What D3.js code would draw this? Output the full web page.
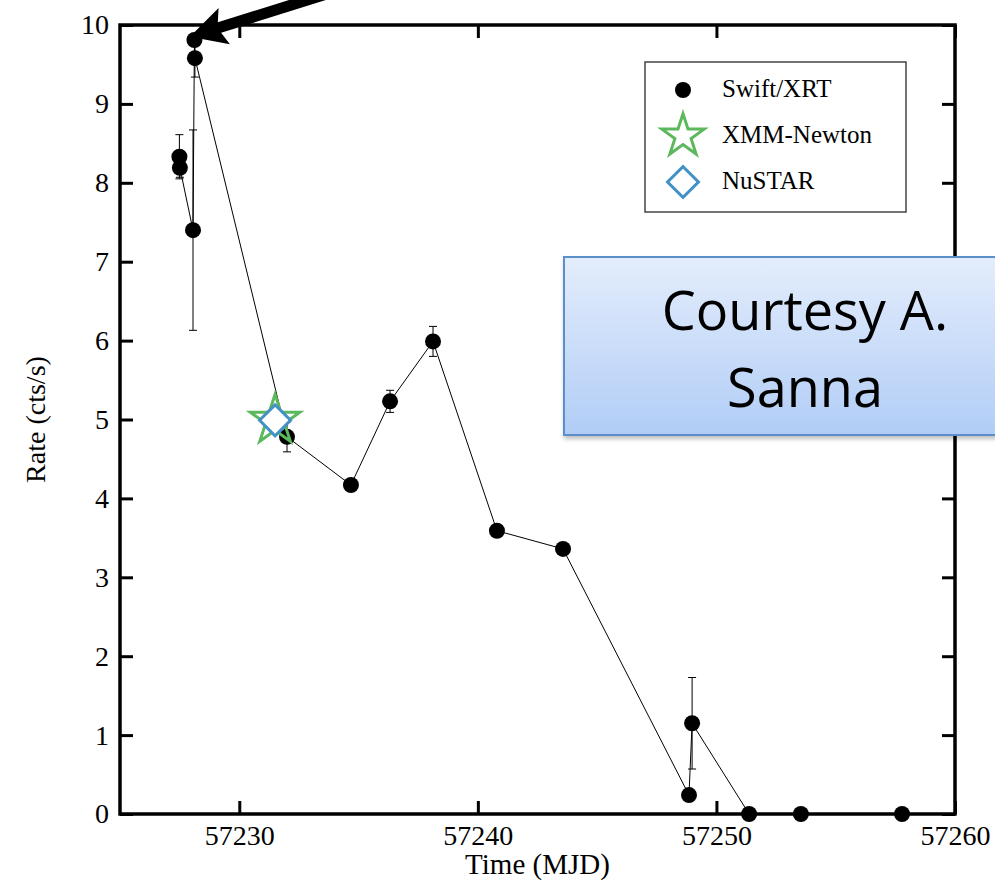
<!DOCTYPE html>
<html>
<head>
<meta charset="utf-8">
<script src="https://cdn.jsdelivr.net/npm/d3@7"></script>
<style>
  body { margin: 0; background: #fff; }
  svg { display: block; }
</style>
</head>
<body>
<div id="chart"></div>
<script>
// Swift/XRT light curve
var swiftTime = [57227.49, 57227.51, 57228.06, 57228.12, 57228.14, 57232.0, 57234.68, 57236.32,
                 57238.12, 57240.80, 57243.57, 57248.85, 57248.98, 57251.37, 57253.54, 57257.78];
var swiftRate = [8.33, 8.19, 7.40, 9.81, 9.58, 4.78, 4.17, 5.23, 5.99, 3.59, 3.36, 0.24, 1.15, 0, 0, 0];
var swiftErr  = [0.28, 0.12, 1.27, 0, 0.24, 0.19, 0, 0.14, 0.19, 0, 0, 0, 0.58, 0, 0, 0];

var xmmTime = [57231.5], xmmRate = [4.99];
var nustarTime = [57231.5], nustarRate = [4.99];

var xTicks = [57230, 57240, 57250, 57260];
var yTicks = [0, 1, 2, 3, 4, 5, 6, 7, 8, 9, 10];

var legendLabels = ["Swift/XRT", "XMM-Newton", "NuSTAR"];
var arrowTip = [57227.93, 9.85];

draw();

function draw() {
    var width = 995, height = 881;
    var pLeft = 120, pRight = 955, pTop = 25, pBottom = 814;

    var svg = d3.select('#chart').append('svg')
        .attr('width', width)
        .attr('height', height)

    var x = d3.scaleLinear().domain([57225, 57260]).range([pLeft, pRight]);
    var y = d3.scaleLinear().domain([0, 10]).range([pBottom, pTop]);

    var serif = '"Liberation Serif", "Times New Roman", serif';

    // axes, ticks pointing inward
    function styleAxis(g) {
        g.select('.domain').remove();
        g.selectAll('.tick line').attr('stroke', '#000').attr('stroke-width', 3);
        g.selectAll('.tick text').attr('font-family', serif).attr('font-size', 28).attr('fill', '#000');
    }

    svg.append('g')
        .attr('transform', 'translate(0,' + pBottom + ')')
        .call(d3.axisBottom(x).tickValues(xTicks).tickFormat(d3.format('d')).tickSize(-13).tickPadding(11))
        .call(styleAxis)

    svg.append('g')
        .attr('transform', 'translate(0,' + pTop + ')')
        .call(d3.axisTop(x).tickValues(xTicks).tickFormat('').tickSize(-13))
        .call(styleAxis)

    svg.append('g')
        .attr('transform', 'translate(' + pLeft + ',0)')
        .call(d3.axisLeft(y).tickValues(yTicks).tickFormat(d3.format('d')).tickSize(-13).tickPadding(11))
        .call(styleAxis)

    svg.append('g')
        .attr('transform', 'translate(' + pRight + ',0)')
        .call(d3.axisRight(y).tickValues(yTicks).tickFormat('').tickSize(-13))
        .call(styleAxis)

    svg.append('rect')
        .attr('x', pLeft)
        .attr('y', pTop)
        .attr('width', pRight - pLeft)
        .attr('height', pBottom - pTop)
        .attr('fill', 'none')
        .attr('stroke', '#000')
        .attr('stroke-width', 3.5)

    // axis labels
    svg.append('text')
        .text('Time (MJD)')
        .attr('x', (pLeft + pRight) / 2)
        .attr('y', 874)
        .attr('text-anchor', 'middle')
        .attr('font-family', serif)
        .attr('font-size', 29)

    svg.append('text')
        .text('Rate (cts/s)')
        .attr('transform', 'translate(45,' + (pTop + pBottom) / 2 + ') rotate(-90)')
        .attr('text-anchor', 'middle')
        .attr('font-family', serif)
        .attr('font-size', 28)

    var swift = swiftTime.map(function(t, i) {
        return { t: t, r: swiftRate[i], e: swiftErr[i] };
    });

    // connecting line
    svg.append('path')
        .datum(swift)
        .attr('fill', 'none')
        .attr('stroke', '#000')
        .attr('stroke-width', 1)
        .attr('d', d3.line().x(function(d) { return x(d.t) }).y(function(d) { return y(d.r) }))

    // error bars
    var errs = svg.append('g').selectAll('g')
        .data(swift.filter(function(d) { return d.e > 0 }))
        .enter().append('g')
        .attr('stroke', '#000')
        .attr('stroke-width', 1)

    errs.append('line')
        .attr('x1', function(d) { return x(d.t) })
        .attr('x2', function(d) { return x(d.t) })
        .attr('y1', function(d) { return y(d.r - d.e) })
        .attr('y2', function(d) { return y(d.r + d.e) })

    errs.selectAll('.cap')
        .data(function(d) { return [[d.t, d.r - d.e], [d.t, d.r + d.e]] })
        .enter().append('line')
        .attr('class', 'cap')
        .attr('x1', function(d) { return x(d[0]) - 4 })
        .attr('x2', function(d) { return x(d[0]) + 4 })
        .attr('y1', function(d) { return y(d[1]) })
        .attr('y2', function(d) { return y(d[1]) })

    svg.append('g').selectAll('circle')
        .data(swift)
        .enter().append('circle')
        .attr('cx', function(d) { return x(d.t) })
        .attr('cy', function(d) { return y(d.r) })
        .attr('r', 8)
        .attr('fill', '#000')

    // XMM-Newton star and NuSTAR diamond
    var starPath = d3.symbol().type(d3.symbolStar).size(760);
    var diamondPath = d3.symbol().type(d3.symbolSquare).size(480);

    svg.append('g').selectAll('path')
        .data(xmmTime.map(function(t, i) { return [t, xmmRate[i]] }))
        .enter().append('path')
        .attr('d', starPath)
        .attr('transform', function(d) { return 'translate(' + x(d[0]) + ',' + y(d[1]) + ')' })
        .attr('fill', 'none')
        .attr('stroke', '#5cb85c')
        .attr('stroke-width', 3)

    svg.append('g').selectAll('path')
        .data(nustarTime.map(function(t, i) { return [t, nustarRate[i]] }))
        .enter().append('path')
        .attr('d', diamondPath)
        .attr('transform', function(d) { return 'translate(' + x(d[0]) + ',' + y(d[1]) + ') rotate(45)' })
        .attr('fill', '#fff')
        .attr('stroke', '#4292c6')
        .attr('stroke-width', 3)

    // arrow annotation
    var tip = [x(arrowTip[0]), y(arrowTip[1])];
    var dir = [0.954, -0.299], perp = [0.299, 0.954];
    var headLen = 36, headHalf = 19, shaftHalf = 5.5, tailLen = 260;
    function pt(a, b) { return [tip[0] + dir[0] * a + perp[0] * b, tip[1] + dir[1] * a + perp[1] * b] }
    svg.append('path')
        .attr('d', d3.line()([pt(0, 0), pt(headLen, headHalf), pt(headLen - 5, shaftHalf), pt(tailLen, shaftHalf),
                              pt(tailLen, -shaftHalf), pt(headLen - 5, -shaftHalf), pt(headLen, -headHalf)]) + 'Z')
        .attr('fill', '#000')

    // legend
    var legend = svg.append('g')
    legend.append('rect')
        .attr('x', 645).attr('y', 62)
        .attr('width', 261).attr('height', 150)
        .attr('fill', '#fff')
        .attr('stroke', '#444')
        .attr('stroke-width', 1.5)

    var rows = legend.selectAll('g.row')
        .data(legendLabels)
        .enter().append('g')
        .attr('class', 'row')
        .attr('transform', function(d, i) { return 'translate(683,' + (90 + i * 46) + ')' })

    rows.filter(function(d, i) { return i == 0 }).append('circle').attr('r', 8).attr('fill', '#000')
    rows.filter(function(d, i) { return i == 1 }).append('path')
        .attr('d', d3.symbol().type(d3.symbolStar).size(560))
        .attr('fill', 'none').attr('stroke', '#5cb85c').attr('stroke-width', 3)
    rows.filter(function(d, i) { return i == 2 }).append('path')
        .attr('d', diamondPath).attr('transform', 'rotate(45)')
        .attr('fill', 'none').attr('stroke', '#4292c6').attr('stroke-width', 3)

    rows.append('text')
        .text(function(d) { return d })
        .attr('x', 39)
        .attr('y', 7)
        .attr('font-family', serif)
        .attr('font-size', 25)

    // courtesy box
    var defs = svg.append('defs');
    var grad = defs.append('linearGradient').attr('id', 'boxGrad').attr('x1', 0).attr('y1', 0).attr('x2', 0).attr('y2', 1);
    grad.append('stop').attr('offset', '0%').attr('stop-color', '#e4edfc');
    grad.append('stop').attr('offset', '100%').attr('stop-color', '#b1cdf6');
    var shadow = defs.append('filter').attr('id', 'shadow').attr('x', '-10%').attr('y', '-10%').attr('width', '130%').attr('height', '130%');
    shadow.append('feDropShadow').attr('dx', 1).attr('dy', 3).attr('stdDeviation', 2).attr('flood-color', '#000').attr('flood-opacity', 0.25);

    svg.append('rect')
        .attr('x', 564).attr('y', 257)
        .attr('width', 500).attr('height', 178)
        .attr('fill', 'url(#boxGrad)')
        .attr('stroke', '#5b8ec9')
        .attr('stroke-width', 2)
        .attr('filter', 'url(#shadow)')

    svg.append('g').selectAll('text')
        .data(['Courtesy A.', 'Sanna'])
        .enter().append('text')
        .text(function(d) { return d })
        .attr('x', 805)
        .attr('y', function(d, i) { return 330 + i * 77 })
        .attr('text-anchor', 'middle')
        .attr('font-family', '"Open Sans", sans-serif')
        .attr('font-size', 54)
        .attr('fill', '#000')
}
</script>
</body>
</html>
